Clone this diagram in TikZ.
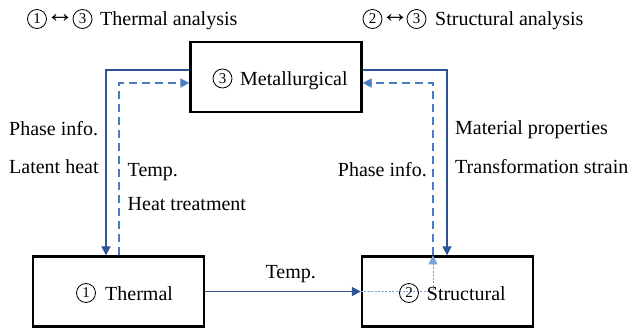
\documentclass[tikz,border=0pt]{standalone}
\usepackage{fontspec}
\setmainfont{Liberation Serif}
\newfontfamily\tnr{Liberation Serif}
\usetikzlibrary{arrows.meta}
\definecolor{darkblu}{HTML}{2F5496}
\definecolor{lightblu}{HTML}{4A7CC4}
\definecolor{dotblu}{HTML}{7EA2D8}
\newcommand{\bt}{\tnr\fontsize{20}{24}\selectfont}
\tikzset{
  box/.style={draw,line width=2.4pt,minimum width=171pt,minimum height=70pt,inner sep=0pt},
  cnum/.style={circle,draw,line width=0.8pt,inner sep=0pt,minimum size=19pt,font=\tnr\fontsize{15}{15}\selectfont},
  lrarrow/.style={inner sep=0pt,font=\tnr\fontsize{28}{28}\selectfont},
  solidarr/.style={darkblu,line width=1.8pt,-{Triangle[length=9pt,width=9pt]}},
  dasharr/.style={lightblu,line width=1.8pt,dash pattern=on 8pt off 5pt,-{Triangle[length=9pt,width=9pt]}},
  dotarr/.style={dotblu,line width=1pt,dash pattern=on 2pt off 1.5pt,-{Triangle[length=9pt,width=9pt]}},
  lbl/.style={inner sep=0pt,anchor=base west},
}
\begin{document}
\begin{tikzpicture}[x=1pt,y=-1pt,font=\bt]
\useasboundingbox (0,0) rectangle (630,330);
% boxes
\node[box] (met) at (276,77) {};
\node[box] (th) at (118.5,291.5) {};
\node[box] (st) at (447.5,291.5) {};
% box texts
\node[cnum] (c3m) at (222.5,78.5) {3};
\node[lbl] (mett) at (240,85) {Metallurgical};
\node[cnum] (c1b) at (86,293) {1};
\node[lbl] (tht) at (105,300) {Thermal};
% titles
\node[cnum] (c1t) at (37,19) {1};
\node[lrarrow] (a1) at (60,19) {↔};
\node[cnum] (c3t) at (82.5,19) {3};
\node[lbl] (t1) at (100,25.5) {Thermal analysis};
\node[cnum] (c2t) at (372.5,19) {2};
\node[lrarrow] (a2) at (395,19) {↔};
\node[cnum] (c3u) at (416.5,19) {3};
\node[lbl] (t2) at (435,25.5) {Structural analysis};
% left side
\draw[solidarr] ([yshift=7pt]met.west) -| ([xshift=-12.5pt]th.north);
\draw[dasharr] ([xshift=0.5pt]th.north) |- ([yshift=-6pt]met.west);
% right side
\draw[solidarr] ([yshift=7pt]met.east) -| ([xshift=-0.5pt]st.north);
\draw[dotarr] (st.west) -| ([xshift=-14.5pt]st.north);
\draw[dasharr] ([xshift=-14.5pt]st.north) |- ([yshift=-6pt]met.east);
% structural text (over dotted line)
\node[cnum] (c2b) at (409,293) {2};
\node[lbl] (stt) at (426.7,300) {Structural};
% bottom
\draw[solidarr] (th) -- node[pos=0.55,anchor=base,inner sep=0pt,yshift=13.5pt,text=black] (tl) {Temp.} (st);
% labels
\node[lbl] (l1) at (9,135) {Phase info.};
\node[lbl] (l2) at (9,173) {Latent heat};
\node[lbl] (l3) at (127.5,176) {Temp.};
\node[lbl] (l4) at (127.5,210) {Heat treatment};
\node[lbl] (r1) at (455,134.7) {Material properties};
\node[lbl] (r2) at (455,173) {Transformation strain};
\node[inner sep=0pt,anchor=base east] (r3) at (427,176.5) {Phase info.};
\end{tikzpicture}
\end{document}
